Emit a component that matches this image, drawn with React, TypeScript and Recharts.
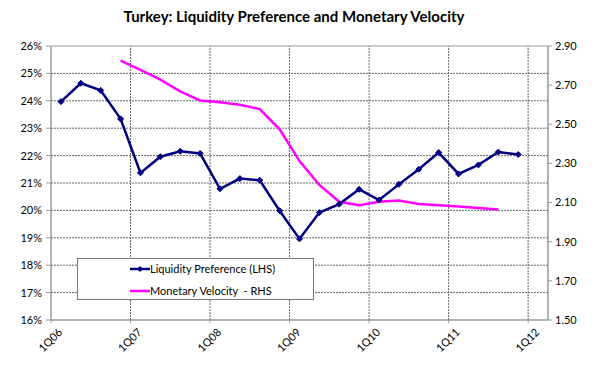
import {
  ComposedChart,
  Line,
  XAxis,
  YAxis,
  ReferenceLine,
  ReferenceArea
} from 'recharts'

// Quarter labels on the category axis (one tick every 4 quarters)
const tickLabels = ['1Q06', '1Q07', '1Q08', '1Q09', '1Q10', '1Q11', '1Q12']

// Liquidity preference (%, LHS), 1Q06 .. 4Q11
const liquidityPref = [
  23.97, 24.64, 24.38, 23.34, 21.37, 21.96, 22.16, 22.08,
  20.79, 21.16, 21.1, 19.99, 18.96, 19.92, 20.23, 20.77,
  20.38, 20.95, 21.5, 22.11, 21.33, 21.66, 22.13, 22.04
]

// Monetary velocity (RHS), starts 4Q06, ends 3Q11
const monetaryVelocity: (number | null)[] = [
  null, null, null, 2.825, 2.778, 2.728, 2.668, 2.622,
  2.612, 2.6, 2.578, 2.474, 2.312, 2.19, 2.104, 2.087,
  2.104, 2.11, 2.093, 2.086, 2.08, 2.072, 2.065, null
]

const leftTicks = [16, 17, 18, 19, 20, 21, 22, 23, 24, 25, 26]
const rightTicks = [1.5, 1.7, 1.9, 2.1, 2.3, 2.5, 2.7, 2.9]
const xTicks = tickLabels.map((_, i) => i * 4)

const chartData = liquidityPref.map((lp, i) => ({
  x: i + 0.5,
  lp,
  mv: monetaryVelocity[i]
}))

const FONT = 'Lato, "Open Sans", sans-serif'

// small diamond marker like the Excel series
const Diamond = (props: any) => {
  const { cx, cy } = props
  if (cx == null || cy == null) return null
  const r = 3
  return (
    <path
      d={`M${cx},${cy - r} L${cx + r},${cy} L${cx},${cy + r} L${cx - r},${cy} Z`}
      fill="#000080"
      stroke="#000080"
      strokeWidth={1}
    />
  )
}

const QuarterTick = (props: any) => {
  const { x, y, payload } = props
  const label = tickLabels[Math.round(payload.value / 4)]
  const ax = x + 12
  const ay = y + 8
  return (
    <text
      x={ax}
      y={ay}
      textAnchor="end"
      fontSize={11}
      fontFamily={FONT}
      fill="#000"
      transform={`rotate(-45 ${ax} ${ay})`}
    >
      {label}
    </text>
  )
}

const LegendBox = () => (
  <div
    style={{
      position: 'absolute',
      left: 77,
      top: 258,
      width: 235,
      height: 40,
      border: '1px solid #777',
      background: '#fff'
    }}
  >
    <svg width={235} height={40} style={{ position: 'absolute', left: 0, top: 0 }}>
      <line x1={52} y1={10} x2={72} y2={10} stroke="#000080" strokeWidth={2.5} />
      <path d="M62,7 L65,10 L62,13 L59,10 Z" fill="#000080" />
      <line x1={52} y1={32} x2={72} y2={32} stroke="#FF00FF" strokeWidth={2.5} />
      <text x={72} y={14} fontSize={11} fontFamily={FONT}>Liquidity Preference (LHS)</text>
      <text x={72} y={36} fontSize={11} fontFamily={FONT} style={{ whiteSpace: 'pre' }}>
        {'Monetary Velocity  - RHS'}
      </text>
    </svg>
  </div>
)

export default function App() {
  return (
    <div style={{ position: 'absolute', left: 0, top: 0, width: 600, height: 392, background: '#fff' }}>
      <div
        style={{
          position: 'absolute',
          left: 0,
          top: 7,
          width: 588,
          textAlign: 'center',
          fontFamily: FONT,
          fontWeight: 700,
          fontSize: 15,
          color: '#000'
        }}
      >
        Turkey: Liquidity Preference and Monetary Velocity
      </div>
      <ComposedChart
        width={600}
        height={392}
        data={chartData}
        margin={{ top: 46, right: 0, bottom: 0, left: 0 }}
      >
        <XAxis
          dataKey="x"
          type="number"
          domain={[0, 25]}
          ticks={xTicks}
          interval={0}
          height={72}
          tick={<QuarterTick />}
          tickLine={{ stroke: '#999' }}
          tickSize={3}
          axisLine={{ stroke: '#999' }}
        />
        <YAxis
          yAxisId="left"
          orientation="left"
          width={51}
          domain={[16, 26]}
          ticks={leftTicks}
          interval={0}
          tickFormatter={(v) => `${v}%`}
          tick={{ fontSize: 11, fill: '#000', fontFamily: FONT }}
          tickLine={{ stroke: '#999' }}
          tickSize={5}
          tickMargin={4}
          axisLine={{ stroke: '#999' }}
        />
        <YAxis
          yAxisId="right"
          orientation="right"
          width={52}
          domain={[1.5, 2.9]}
          ticks={rightTicks}
          interval={0}
          tickFormatter={(v) => v.toFixed(2)}
          tick={{ fontSize: 11, fill: '#000', fontFamily: FONT }}
          tickLine={{ stroke: '#999' }}
          tickSize={4}
          tickMargin={3}
          axisLine={{ stroke: '#999' }}
        />
        {leftTicks.slice(1, -1).map((v) => (
          <ReferenceLine key={`h${v}`} yAxisId="left" y={v} stroke="#666" strokeDasharray="2 1" />
        ))}
        {xTicks.slice(1).map((t) => (
          <ReferenceLine key={`v${t}`} yAxisId="left" x={t} stroke="#666" strokeDasharray="2 1" />
        ))}
        <ReferenceArea
          yAxisId="left"
          x1={0}
          x2={25}
          y1={16}
          y2={26}
          fill="none"
          stroke="#999"
          strokeWidth={1}
          ifOverflow="visible"
        />
        <Line
          yAxisId="right"
          dataKey="mv"
          type="linear"
          stroke="#FF00FF"
          strokeWidth={2.5}
          dot={false}
          isAnimationActive={false}
        />
        <Line
          yAxisId="left"
          dataKey="lp"
          type="linear"
          stroke="#000080"
          strokeWidth={2.5}
          dot={<Diamond />}
          isAnimationActive={false}
        />
      </ComposedChart>
      <LegendBox />
    </div>
  )
}
